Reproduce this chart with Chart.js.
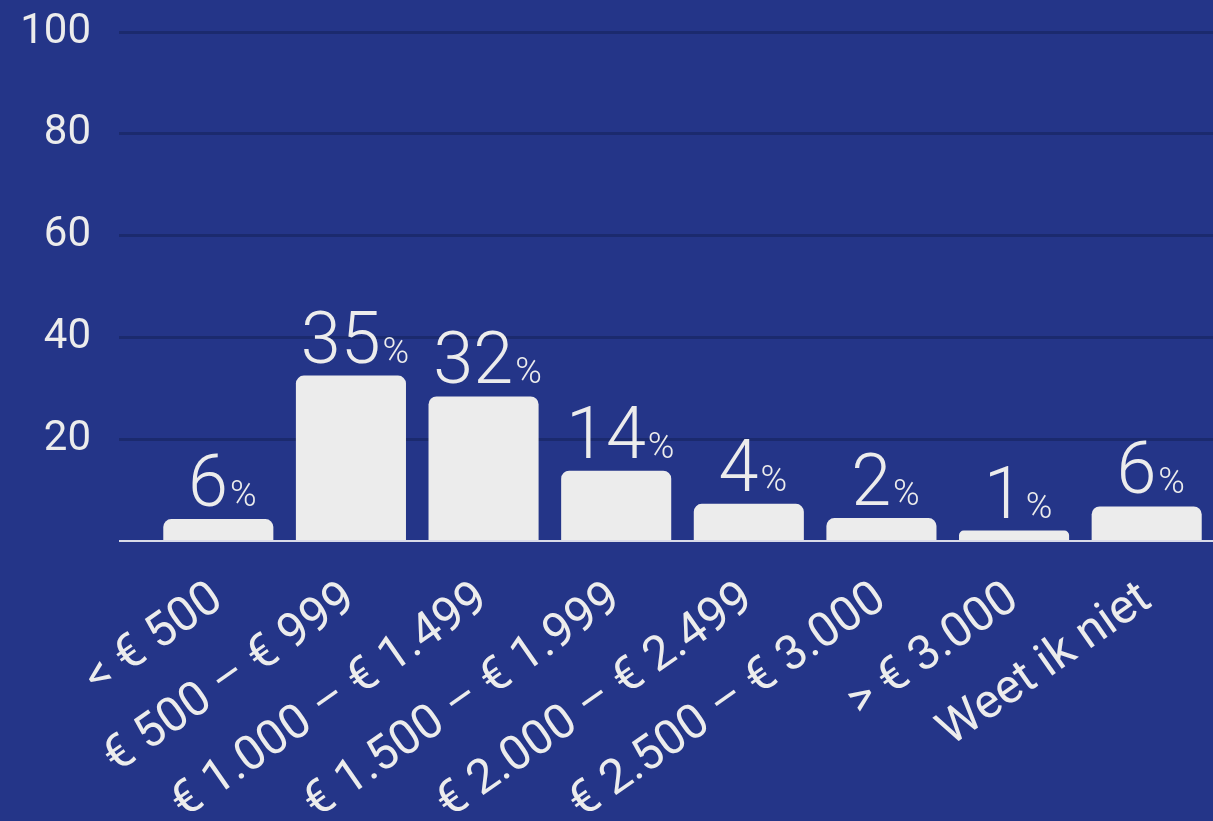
<!DOCTYPE html>
<html>
<head>
<meta charset="utf-8">
<script src="https://cdn.jsdelivr.net/npm/chart.js@4/dist/chart.umd.min.js"></script>
<style>
  html, body { margin: 0; padding: 0; background: #243588; }
  #wrap { width: 1213px; height: 821px; position: relative; }
</style>
</head>
<body>
<div id="wrap"><canvas id="c" width="1213" height="821"></canvas></div>
<script>
const categories = ['< € 500', '€ 500 – € 999', '€ 1.000 – € 1.499', '€ 1.500 – € 1.999', '€ 2.000 – € 2.499', '€ 2.500 – € 3.000', '> € 3.000', 'Weet ik niet'];
const barValues = [4.3, 32.5, 28.4, 13.8, 7.3, 4.5, 2.05, 6.8];
const labelValues = [6, 35, 32, 14, 4, 2, 1, 6];
const yTicks = [0, 20, 40, 60, 80, 100];

const FONT = 'Roboto, "Noto Sans", sans-serif';
const TEXT = '#ececec';

const valueLabels = {
  id: 'valueLabels',
  afterDatasetsDraw(chart) {
    const ctx = chart.ctx;
    const meta = chart.getDatasetMeta(0);
    ctx.save();
    ctx.fillStyle = TEXT;
    ctx.textBaseline = 'alphabetic';
    meta.data.forEach((bar, i) => {
      const num = String(labelValues[i]);
      ctx.font = '300 72px ' + FONT;
      const wN = ctx.measureText(num).width;
      ctx.font = '300 36px ' + FONT;
      const wP = ctx.measureText('%').width;
      const gap = 2;
      const total = wN + gap + wP;
      const x0 = bar.x - total / 2 + 4;
      const yb = bar.y - 13;
      ctx.textAlign = 'left';
      ctx.font = '300 72px ' + FONT;
      ctx.fillText(num, x0, yb);
      ctx.font = '300 36px ' + FONT;
      ctx.fillText('%', x0 + wN + gap, yb);
    });
    ctx.restore();
  }
};

new Chart(document.getElementById('c'), {
  type: 'bar',
  data: {
    labels: categories,
    datasets: [{
      data: barValues,
      backgroundColor: '#ececec',
      borderRadius: { topLeft: 8, topRight: 8, bottomLeft: 0, bottomRight: 0 },
      borderSkipped: 'start',
      categoryPercentage: 1,
      barPercentage: 0.83
    }]
  },
  options: {
    responsive: false,
    animation: false,
    devicePixelRatio: 1,
    layout: { padding: { top: 32, left: 0, right: 0, bottom: 0 } },
    plugins: { legend: { display: false }, tooltip: { enabled: false } },
    scales: {
      x: {
        grid: { display: false, drawTicks: false },
        border: { display: false },
        ticks: {
          color: TEXT,
          font: { family: FONT, size: 48, weight: '400' },
          minRotation: 35,
          maxRotation: 35,
          autoSkip: false,
          padding: 30
        },
        afterFit(scale) { scale.height = 280; }
      },
      y: {
        min: 0,
        max: 100,
        afterBuildTicks(scale) { scale.ticks = yTicks.map(v => ({ value: v })); },
        grid: {
          color: ctx => ctx.tick && ctx.tick.value === 0 ? '#d8dbe8' : '#1b2a6e',
          tickColor: ctx => ctx.tick && ctx.tick.value === 0 ? '#d8dbe8' : '#1b2a6e',
          lineWidth: ctx => ctx.tick && ctx.tick.value === 0 ? 2 : 3,
          drawTicks: true,
          tickLength: 33,
          z: 0
        },
        border: { display: false },
        ticks: {
          color: TEXT,
          font: { family: FONT, size: 42, weight: '400' },
          padding: 28,
          callback: v => v === 0 ? '' : String(v)
        },
        afterFit(scale) { scale.width = 152; scale.paddingTop = 0; scale.paddingBottom = 0; }
      }
    }
  },
  plugins: [valueLabels]
});
</script>
</body>
</html>
